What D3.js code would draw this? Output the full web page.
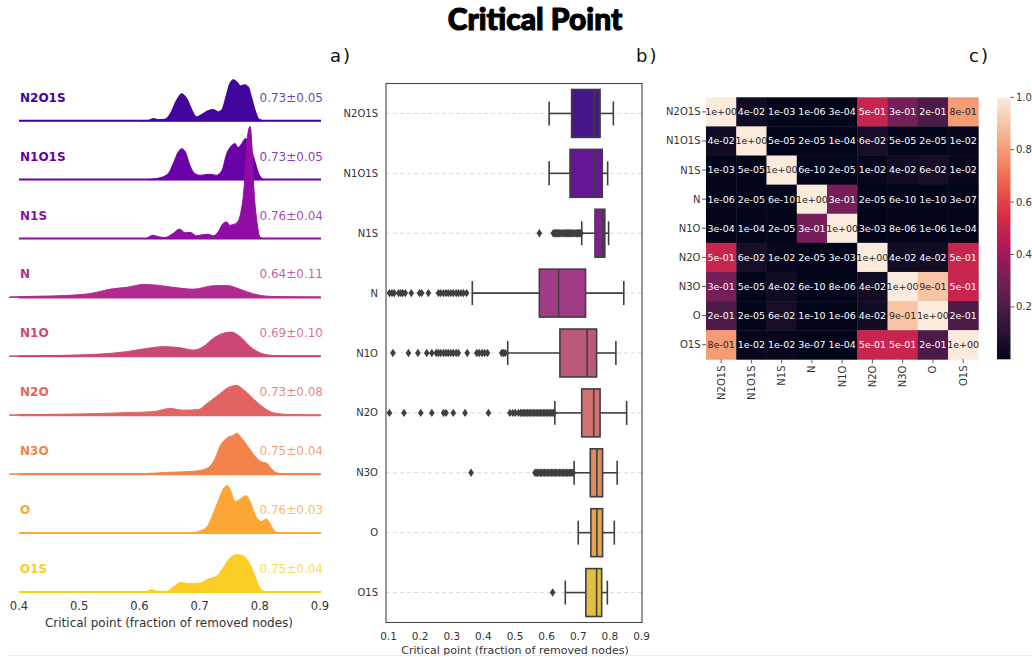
<!DOCTYPE html>
<html><head><meta charset="utf-8">
<script src="https://cdn.jsdelivr.net/npm/d3@7"></script>
<style>body{margin:0;background:#fff}text{font-family:"DejaVu Sans",sans-serif}</style>
</head><body><svg id="c" width="1032" height="657"></svg>
<script>
// ---------------- DATA ----------------
const categories = ["N2O1S","N1O1S","N1S","N","N1O","N2O","N3O","O","O1S"];
const meanStd = ["0.73±0.05","0.73±0.05","0.76±0.04","0.64±0.11","0.69±0.10","0.73±0.08","0.75±0.04","0.76±0.03","0.75±0.04"];
const ridgeTicks = [0.4,0.5,0.6,0.7,0.8,0.9];
const boxTicks = [0.1,0.2,0.3,0.4,0.5,0.6,0.7,0.8,0.9];
const cbarTicks = [0.2,0.4,0.6,0.8,1.0];

// KDE curves read from panel a): [critical point, density]
const densN2O1S = [[0.60,0],[0.615,0.1],[0.623,0.6],[0.632,0.3],[0.642,0.4],[0.651,1.9],[0.662,5.8],[0.670,7.5],[0.679,6.1],[0.687,3.1],[0.695,1.1],[0.703,1.7],[0.714,2.8],[0.723,3.1],[0.731,2.5],[0.737,3.1],[0.745,7.5],[0.750,10.3],[0.756,11.4],[0.762,10.8],[0.768,9.7],[0.775,10.0],[0.781,9.4],[0.786,6.7],[0.792,3.1],[0.798,0.6],[0.806,0]];
const densN1O1S = [[0.612,0],[0.634,0.5],[0.648,1.7],[0.656,4.4],[0.665,7.8],[0.670,8.6],[0.676,7.8],[0.684,3.9],[0.692,1.7],[0.701,1.2],[0.717,1.5],[0.728,1.2],[0.737,2.5],[0.745,7.2],[0.753,9.4],[0.759,10.0],[0.764,8.9],[0.770,10.0],[0.776,11.4],[0.781,10.6],[0.786,8.3],[0.792,5.0],[0.798,1.7],[0.806,0]];
const densN1S = [[0.612,0],[0.623,0.9],[0.631,0.5],[0.643,0.3],[0.654,1.2],[0.667,2.6],[0.676,1.6],[0.685,1.7],[0.695,0.75],[0.706,1.1],[0.714,1.2],[0.723,0.75],[0.731,1.9],[0.739,4.2],[0.745,4.6],[0.750,3.7],[0.756,3.9],[0.763,4.6],[0.768,6.9],[0.774,14.4],[0.778,25.6],[0.782,30.6],[0.784,31.1],[0.787,25.6],[0.790,14.4],[0.795,5.0],[0.800,0.5],[0.806,0]];
const densN = [[0.384,0.14],[0.424,0.3],[0.479,0.55],[0.523,1.2],[0.551,2.3],[0.579,2.8],[0.607,3.6],[0.629,3.4],[0.656,2.8],[0.690,2.3],[0.723,3.25],[0.745,3.3],[0.767,2.3],[0.789,1.0],[0.811,0.36],[0.839,0.2],[0.9,0.1]];
const densN1O = [[0.384,0.1],[0.479,0.3],[0.535,0.64],[0.579,1.3],[0.612,2.2],[0.640,2.7],[0.667,2.4],[0.690,1.75],[0.706,2.7],[0.723,5.0],[0.739,6.4],[0.753,6.75],[0.767,5.5],[0.784,2.7],[0.806,0.64],[0.828,0.2],[0.9,0.1]];
const densN2O = [[0.384,0.1],[0.479,0.3],[0.535,0.5],[0.590,0.8],[0.623,1.0],[0.651,1.9],[0.673,1.4],[0.698,1.6],[0.712,3.25],[0.734,6.0],[0.750,7.9],[0.762,8.3],[0.773,7.1],[0.795,3.7],[0.811,1.6],[0.828,0.5],[0.86,0.1],[0.9,0.05]];
const densN3O = [[0.384,0.05],[0.55,0.08],[0.606,0.14],[0.645,0.5],[0.690,0.8],[0.712,1.6],[0.726,4.4],[0.734,7.8],[0.745,10.0],[0.756,10.8],[0.762,11.4],[0.770,10.0],[0.781,7.5],[0.792,5.0],[0.803,3.4],[0.811,3.1],[0.820,1.4],[0.828,0.4],[0.84,0.1],[0.9,0.05]];
const densO = [[0.690,0],[0.701,0.64],[0.712,1.7],[0.723,5.6],[0.734,10.2],[0.740,12.5],[0.746,13.2],[0.751,12.0],[0.759,8.8],[0.767,9.4],[0.777,10.4],[0.784,8.8],[0.792,5.1],[0.803,3.25],[0.811,3.9],[0.818,2.3],[0.825,0.5],[0.834,0]];
const densO1S = [[0.612,0],[0.620,0.64],[0.631,0.2],[0.645,0.2],[0.656,1.4],[0.670,2.7],[0.681,2.3],[0.701,2.5],[0.714,3.6],[0.728,4.4],[0.739,6.7],[0.750,9.4],[0.762,10.4],[0.773,9.9],[0.784,7.6],[0.792,4.4],[0.800,1.1],[0.809,0]];
const densities = [densN2O1S,densN1O1S,densN1S,densN,densN1O,densN2O,densN3O,densO,densO1S];

// Box statistics read from panel b): [lower whisker, Q1, median, Q3, upper whisker]
const whiskLo = [0.608,0.608,0.711,0.365,0.477,0.626,0.687,0.700,0.659];
const q1      = [0.679,0.674,0.753,0.577,0.642,0.711,0.738,0.740,0.724];
const median  = [0.751,0.751,0.777,0.638,0.728,0.749,0.759,0.759,0.758];
const q3      = [0.769,0.776,0.784,0.723,0.758,0.769,0.777,0.777,0.774];
const whiskHi = [0.811,0.793,0.796,0.844,0.819,0.853,0.823,0.814,0.792];
const outN2O1S = [];
const outN1O1S = [];
const outN1S = [0.577,0.621,0.624,0.628,0.631,0.635,0.638,0.641,0.645,0.648,0.652,0.655,0.659,0.662,0.666,0.669,0.673,0.676,0.680,0.683,0.687,0.690,0.694,0.697,0.700,0.704,0.707,0.709];
const outN = [0.103,0.111,0.118,0.132,0.139,0.145,0.153,0.172,0.198,0.205,0.226,0.258,0.265,0.274,0.282,0.289,0.297,0.305,0.314,0.321,0.329,0.337,0.347];
const outN1O = [0.114,0.163,0.193,0.221,0.237,0.251,0.258,0.265,0.274,0.282,0.289,0.297,0.305,0.314,0.321,0.349,0.379,0.387,0.396,0.404,0.413,0.458,0.463,0.469];
const outN2O = [0.103,0.149,0.202,0.237,0.274,0.282,0.305,0.342,0.416,0.484,0.493,0.501,0.511,0.518,0.522,0.527,0.531,0.536,0.540,0.545,0.549,0.554,0.558,0.563,0.567,0.572,0.576,0.581,0.585,0.590,0.594,0.599,0.603,0.608,0.612,0.617,0.621,0.624];
const outN3O = [0.361,0.563,0.567,0.571,0.576,0.580,0.584,0.589,0.593,0.597,0.602,0.606,0.611,0.615,0.619,0.624,0.628,0.632,0.637,0.641,0.645,0.650,0.654,0.658,0.663,0.667,0.671,0.676,0.680,0.684];
const outO = [];
const outO1S = [0.619];
const outliers = [outN2O1S,outN1O1S,outN1S,outN,outN1O,outN2O,outN3O,outO,outO1S];

// p-value matrix of panel c)
const rowN2O1S = [1,4e-2,1e-3,1e-6,3e-4,5e-1,3e-1,2e-1,8e-1];
const rowN1O1S = [4e-2,1,5e-5,2e-5,1e-4,6e-2,5e-5,2e-5,1e-2];
const rowN1S   = [1e-3,5e-5,1,6e-10,2e-5,1e-2,4e-2,6e-2,1e-2];
const rowN     = [1e-6,2e-5,6e-10,1,3e-1,2e-5,6e-10,1e-10,3e-7];
const rowN1O   = [3e-4,1e-4,2e-5,3e-1,1,3e-3,8e-6,1e-6,1e-4];
const rowN2O   = [5e-1,6e-2,1e-2,2e-5,3e-3,1,4e-2,4e-2,5e-1];
const rowN3O   = [3e-1,5e-5,4e-2,6e-10,8e-6,4e-2,1,9e-1,5e-1];
const rowO     = [2e-1,2e-5,6e-2,1e-10,1e-6,4e-2,9e-1,1,2e-1];
const rowO1S   = [8e-1,1e-2,1e-2,3e-7,1e-4,5e-1,5e-1,2e-1,1];
const pmatrix = [rowN2O1S,rowN1O1S,rowN1S,rowN,rowN1O,rowN2O,rowN3O,rowO,rowO1S];

// ---------------- DRAW ----------------
const svg = d3.select("#c");
const colors = categories.map((c,i)=>d3.interpolatePlasma(0.1*(i+1)));

// Title
svg.append("text").attr("x",535).attr("y",30).attr("text-anchor","middle")
  .style("font-family","Lato, 'DejaVu Sans', sans-serif").style("font-weight",900)
  .style("font-size","30px").attr("fill","#000").attr("stroke","#000").attr("stroke-width",1.1)
  .attr("stroke-linejoin","round").text("Critical Point");

// panel labels
[["a)",330,62],["b)",636,62],["c)",969,62]].forEach(([t,x,y])=>{
  svg.append("text").attr("x",x).attr("y",y).style("font-size","18px")
    .style("letter-spacing","2px").attr("fill","#111").text(t);
});

// ---- Panel a: ridge plot ----
const xR = d3.scaleLinear().domain([0.4,0.9]).range([19,320]);
const dens = d3.scaleLinear().domain([0,10]).range([0,36]);
const yBase = d3.scalePoint().domain(categories).range([120.7,592]);
const gA = svg.append("g");
categories.forEach((cat,i)=>{
  const b = yBase(cat);
  const area = d3.area().x(d=>xR(d[0])).y0(b).y1(d=>b-dens(d[1])).curve(d3.curveMonotoneX);
  gA.append("line").attr("x1",xR(0.4)).attr("x2",xR(0.9)+1).attr("y1",b).attr("y2",b)
    .attr("stroke",colors[i]).attr("stroke-width",2);
  gA.append("path").datum(densities[i]).attr("d",area).attr("fill",colors[i])
    .attr("stroke",colors[i]).attr("stroke-width",1);
  gA.append("text").attr("x",20).attr("y",b-19).style("font-size","12px").style("font-weight","bold")
    .attr("fill",colors[i]).text(cat);
  gA.append("text").attr("x",323).attr("y",b-19).attr("text-anchor","end").style("font-size","12px")
    .attr("fill",colors[i]).attr("fill-opacity",0.78).text(meanStd[i]);
});
ridgeTicks.forEach(t=>{
  gA.append("text").attr("x",xR(t)).attr("y",610).attr("text-anchor","middle")
    .style("font-size","11.5px").attr("fill","#333").text(d3.format(".1f")(t));
});
gA.append("text").attr("x",169).attr("y",627).attr("text-anchor","middle").style("font-size","12px")
  .attr("fill","#333").text("Critical point (fraction of removed nodes)");

// ---- Panel b: box plot ----
const xB = d3.scaleLinear().domain([0.1,0.9]).range([388.5,641.5]);
const yB = d3.scaleBand().domain(categories).range([83.5,622.5]).padding(0);
const gB = svg.append("g");
const gray = "#3f3f3f";
categories.forEach(cat=>{
  const yc = yB(cat)+yB.bandwidth()/2;
  gB.append("line").attr("x1",386).attr("x2",642).attr("y1",yc).attr("y2",yc)
    .attr("stroke","#d0d0d0").attr("stroke-width",0.8).attr("stroke-dasharray","4,3");
});
const diamond = "M0,-4.2L2.8,0L0,4.2L-2.8,0Z";
categories.forEach((cat,i)=>{
  const bw = yB.bandwidth()*0.8;
  const yc = yB(cat)+yB.bandwidth()/2;
  const fill = d3.hsl(colors[i]); fill.s *= 0.75;
  gB.append("line").attr("x1",xB(whiskLo[i])).attr("x2",xB(q1[i])).attr("y1",yc).attr("y2",yc).attr("stroke",gray).attr("stroke-width",1.6);
  gB.append("line").attr("x1",xB(q3[i])).attr("x2",xB(whiskHi[i])).attr("y1",yc).attr("y2",yc).attr("stroke",gray).attr("stroke-width",1.6);
  [whiskLo[i],whiskHi[i]].forEach(v=>{
    gB.append("line").attr("x1",xB(v)).attr("x2",xB(v)).attr("y1",yc-bw/4).attr("y2",yc+bw/4).attr("stroke",gray).attr("stroke-width",1.6);
  });
  gB.append("rect").attr("x",xB(q1[i])).attr("y",yc-bw/2).attr("width",xB(q3[i])-xB(q1[i])).attr("height",bw)
    .attr("fill",fill.formatHex()).attr("stroke",gray).attr("stroke-width",1.6);
  gB.append("line").attr("x1",xB(median[i])).attr("x2",xB(median[i])).attr("y1",yc-bw/2).attr("y2",yc+bw/2).attr("stroke",gray).attr("stroke-width",1.6);
  outliers[i].forEach(v=>{
    gB.append("path").attr("d",diamond).attr("transform",`translate(${xB(v)},${yc})`).attr("fill",gray);
  });
  gB.append("text").attr("x",378).attr("y",yc+3.5).attr("text-anchor","end").style("font-size","10px")
    .attr("fill","#333").text(cat);
});
gB.append("rect").attr("x",386).attr("y",83.5).attr("width",256).attr("height",539)
  .attr("fill","none").attr("stroke","#444").attr("stroke-width",1.1);
boxTicks.forEach(t=>{
  gB.append("text").attr("x",xB(t)).attr("y",640).attr("text-anchor","middle").style("font-size","10.5px")
    .attr("fill","#333").text(d3.format(".1f")(t));
});
gB.append("text").attr("x",515).attr("y",654).attr("text-anchor","middle").style("font-size","11px")
  .attr("fill","#333").text("Critical point (fraction of removed nodes)");

// ---- Panel c: heatmap ----
const rocketStops = ["#03051a","#35193e","#701f57","#ad1759","#e13342","#f37651","#f6b48f","#faebdd"];
const rocket = d3.scaleLinear().domain(rocketStops.map((c,i)=>i/7)).range(rocketStops).interpolate(d3.interpolateRgb).clamp(true);
const xH = d3.scaleBand().domain(categories).range([706,978.3]);
const yH = d3.scaleBand().domain(categories).range([97.3,359.3]);
const gC = svg.append("g");
function fmt(v){ const s=v.toExponential(0).split("e"); return s[0]+"e"+s[1][0]+s[1].slice(1).padStart(2,"0"); }
function lum(c){ const r=d3.rgb(c); const f=x=>{x/=255;return x<=0.03928?x/12.92:Math.pow((x+0.055)/1.055,2.4);}; return 0.2126*f(r.r)+0.7152*f(r.g)+0.0722*f(r.b); }
categories.forEach((rc,r)=>{
  categories.forEach((cc,c)=>{
    const v = pmatrix[r][c]; const col = rocket(v);
    gC.append("rect").attr("x",xH(cc)).attr("y",yH(rc)).attr("width",xH.bandwidth()+0.4).attr("height",yH.bandwidth()+0.4).attr("fill",col);
    gC.append("text").attr("x",xH(cc)+xH.bandwidth()/2).attr("y",yH(rc)+yH.bandwidth()/2+3.4)
      .attr("text-anchor","middle").style("font-size","9.5px")
      .attr("fill",lum(col)>0.408?"#262626":"#ffffff").text(fmt(v));
  });
  const yc = yH(rc)+yH.bandwidth()/2;
  gC.append("line").attr("x1",702).attr("x2",706).attr("y1",yc).attr("y2",yc).attr("stroke","#333").attr("stroke-width",0.8);
  gC.append("text").attr("x",700.5).attr("y",yc+3.5).attr("text-anchor","end").style("font-size","10px").attr("fill","#333").text(rc);
});
categories.forEach(cc=>{
  const xc = xH(cc)+xH.bandwidth()/2;
  gC.append("line").attr("x1",xc).attr("x2",xc).attr("y1",359.3).attr("y2",363.3).attr("stroke","#333").attr("stroke-width",0.8);
  gC.append("text").attr("transform",`translate(${xc+3.5},365.5) rotate(-90)`).attr("text-anchor","end")
    .style("font-size","10px").attr("fill","#333").text(cc);
});
// colorbar
const cbY = d3.scaleLinear().domain([0,1]).range([359.3,97.3]);
const defs = svg.append("defs");
const grad = defs.append("linearGradient").attr("id","rk").attr("x1","0").attr("y1","1").attr("x2","0").attr("y2","0");
d3.range(0,1.0001,0.05).forEach(t=>grad.append("stop").attr("offset",t).attr("stop-color",rocket(t)));
gC.append("rect").attr("x",997).attr("y",cbY(1)).attr("width",13.5).attr("height",cbY(0)-cbY(1)).attr("fill","url(#rk)");
cbarTicks.forEach(t=>{
  gC.append("line").attr("x1",1010.5).attr("x2",1014).attr("y1",cbY(t)).attr("y2",cbY(t)).attr("stroke","#333").attr("stroke-width",0.8);
  gC.append("text").attr("x",1016).attr("y",cbY(t)+3.5).style("font-size","10px").attr("fill","#333").text(d3.format(".1f")(t));
});
svg.append("line").attr("x1",8).attr("x2",1032).attr("y1",655.5).attr("y2",655.5).attr("stroke","#ececec").attr("stroke-width",1);
</script></body></html>
